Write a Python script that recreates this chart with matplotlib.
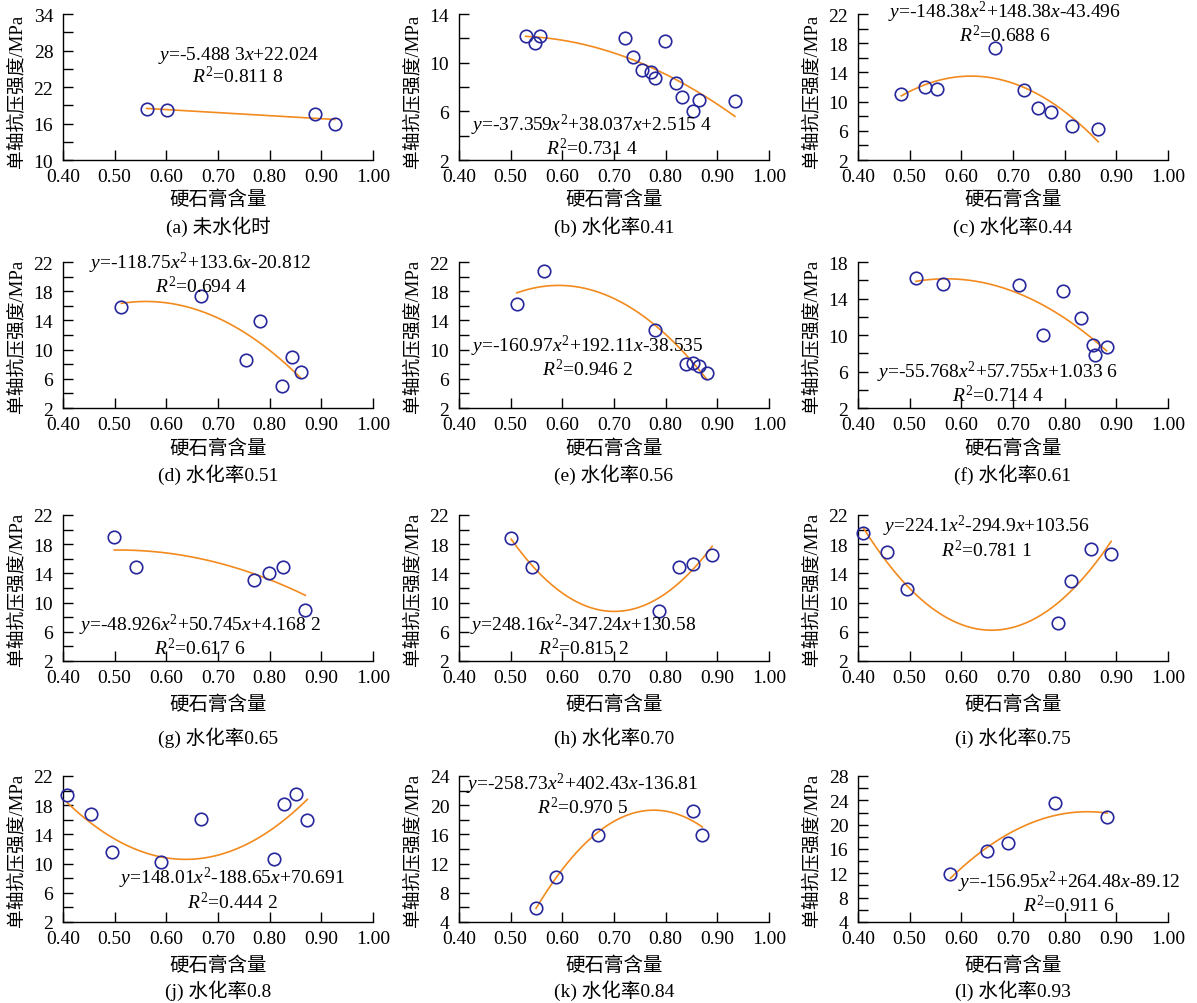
import numpy as np
import matplotlib
matplotlib.use('Agg')
import matplotlib.pyplot as plt

plt.rcParams['font.family'] = ['Liberation Serif', 'Noto Sans CJK SC']
plt.rcParams['mathtext.fontset'] = 'custom'
plt.rcParams['mathtext.rm'] = 'Liberation Serif'
plt.rcParams['mathtext.it'] = 'Liberation Serif:italic'

# ---------------- data ----------------
x_a = [0.562, 0.602, 0.887, 0.926]
y_a = [18.42, 18.25, 17.60, 16.00]

x_b = [0.529, 0.557, 0.548, 0.721, 0.799, 0.737, 0.754, 0.772, 0.780, 0.820, 0.831, 0.865, 0.852, 0.934]
y_b = [12.20, 12.20, 11.60, 12.00, 11.80, 10.45, 9.40, 9.25, 8.75, 8.35, 7.20, 6.95, 6.05, 6.85]

x_c = [0.484, 0.530, 0.553, 0.666, 0.721, 0.749, 0.774, 0.815, 0.865]
y_c = [11.00, 12.00, 11.67, 17.36, 11.57, 9.16, 8.64, 6.64, 6.22]

x_d = [0.513, 0.667, 0.781, 0.754, 0.844, 0.860, 0.823]
y_d = [15.90, 17.40, 13.85, 8.55, 9.00, 6.95, 4.97]

x_e = [0.512, 0.565, 0.779, 0.839, 0.853, 0.865, 0.880]
y_e = [16.30, 20.78, 12.62, 8.07, 8.10, 7.70, 6.85]

x_f = [0.512, 0.564, 0.712, 0.797, 0.832, 0.759, 0.855, 0.859, 0.881]
y_f = [16.25, 15.62, 15.52, 14.85, 11.85, 10.05, 8.85, 7.85, 8.65]

x_g = [0.499, 0.542, 0.770, 0.798, 0.825, 0.869]
y_g = [18.92, 14.94, 13.04, 14.09, 14.94, 8.97]

x_h = [0.501, 0.542, 0.787, 0.826, 0.853, 0.890]
y_h = [18.90, 14.85, 8.85, 14.94, 15.27, 16.55]

x_i = [0.410, 0.456, 0.495, 0.787, 0.813, 0.850, 0.890]
y_i = [19.50, 16.95, 11.85, 7.25, 13.00, 17.40, 16.70]

x_j = [0.408, 0.455, 0.495, 0.589, 0.668, 0.809, 0.827, 0.851, 0.873]
y_j = [19.34, 16.86, 11.58, 10.18, 16.16, 10.69, 18.12, 19.57, 16.02]

x_k = [0.549, 0.588, 0.669, 0.852, 0.871]
y_k = [5.90, 10.20, 15.92, 19.23, 15.85]

x_l = [0.579, 0.650, 0.690, 0.781, 0.882]
y_l = [11.91, 15.71, 16.94, 23.53, 21.24]

xs_all = [x_a, x_b, x_c, x_d, x_e, x_f, x_g, x_h, x_i, x_j, x_k, x_l]
ys_all = [y_a, y_b, y_c, y_d, y_e, y_f, y_g, y_h, y_i, y_j, y_k, y_l]
fit_degree = [1, 2, 2, 2, 2, 2, 2, 2, 2, 2, 2, 2]
# trend-line coefficients printed in the panel, used where the drawn curve follows them;
# None -> least-squares fit of the plotted points
coef_j = [148.01, -188.65, 70.691]
curve_coefs = [None, None, None, None, None, None, None, None, None, coef_j, None, None]

captions = ['(a) 未水化时', '(b) 水化率0.41', '(c) 水化率0.44', '(d) 水化率0.51',
            '(e) 水化率0.56', '(f) 水化率0.61', '(g) 水化率0.65', '(h) 水化率0.70',
            '(i) 水化率0.75', '(j) 水化率0.8', '(k) 水化率0.84', '(l) 水化率0.93']

Y = r'$\mathit{y}$'
X = r'$\mathit{x}$'
X2 = r'$\mathit{x}^{\mathrm{2}}$'
R2 = r'$\mathit{R}^{\mathrm{2}}$'
equations = [
    Y + '=-5.488 3' + X + '+22.024',
    Y + '=-37.359' + X2 + '+38.037' + X + '+2.515 4',
    Y + '=-148.38' + X2 + '+148.38' + X + '-43.496',
    Y + '=-118.75' + X2 + '+133.6' + X + '-20.812',
    Y + '=-160.97' + X2 + '+192.11' + X + '-38.535',
    Y + '=-55.768' + X2 + '+57.755' + X + '+1.033 6',
    Y + '=-48.926' + X2 + '+50.745' + X + '+4.168 2',
    Y + '=248.16' + X2 + '-347.24' + X + '+130.58',
    Y + '=224.1' + X2 + '-294.9' + X + '+103.56',
    Y + '=148.01' + X2 + '-188.65' + X + '+70.691',
    Y + '=-258.73' + X2 + '+402.43' + X + '-136.81',
    Y + '=-156.95' + X2 + '+264.48' + X + '-89.12',
]
r2_values = ['0.811 8', '0.731 4', '0.688 6', '0.694 4', '0.946 2', '0.714 4',
             '0.617 6', '0.815 2', '0.781 1', '0.444 2', '0.970 5', '0.911 6']

y_limits = [(10, 34), (2, 14), (2, 22), (2, 22), (2, 22), (2, 18),
            (2, 22), (2, 22), (2, 22), (2, 22), (4, 24), (4, 28)]
y_steps = [6, 4, 4, 4, 4, 4, 4, 4, 4, 4, 4, 4]

x_ticks = [0.40, 0.50, 0.60, 0.70, 0.80, 0.90, 1.00]

# text placement (axes fraction): centre x, equation-line y, R2-line y
eq_pos = [(0.565, 0.726, 0.575), (0.428, 0.226, 0.123), (0.474, 1.008, 0.882),
          (0.444, 0.991, 0.861), (0.415, 0.427, 0.283), (0.450, 0.244, 0.119),
          (0.442, 0.242, 0.112), (0.401, 0.249, 0.112), (0.415, 0.920, 0.786),
          (0.546, 0.295, 0.164), (0.398, 0.940, 0.813), (0.681, 0.265, 0.146)]

# ---------------- figure ----------------
W, H = 1197, 1004
fig = plt.figure(figsize=(W / 100, H / 100), dpi=100)

col_left = [63, 459, 858]
row_top = [15, 263, 516, 777]
ax_w, ax_h = 310, 146
cap_off = [66, 66, 76, 68]
xl_off = [39, 40, 43, 43]

line_color = '#f28a1e'
mark_color = '#26279b'

for k in range(12):
    r, c = divmod(k, 3)
    left = col_left[c] / W
    bottom = 1 - (row_top[r] + ax_h) / H
    ax = fig.add_axes([left, bottom, ax_w / W, ax_h / H])

    x = np.array(xs_all[k])
    y = np.array(ys_all[k])
    coef = curve_coefs[k] if curve_coefs[k] is not None else np.polyfit(x, y, fit_degree[k])
    xx = np.linspace(x.min(), x.max(), 200)
    ax.plot(xx, np.polyval(coef, xx), color=line_color, lw=1.2, zorder=2)
    ax.plot(x, y, 'o', ms=9, mfc='none', mec=mark_color, mew=1.2, zorder=3, clip_on=False)

    lo, hi = y_limits[k]
    st = y_steps[k]
    ax.set_xlim(0.4, 1.0)
    ax.set_ylim(lo, hi)
    ax.set_xticks(x_ticks)
    ax.set_xticklabels([f'{v:.2f}' for v in x_ticks])
    ax.set_yticks(np.arange(lo, hi + 1e-9, st))
    ax.set_yticks(np.arange(lo + st / 2, hi, st), minor=True)
    ax.spines['top'].set_visible(False)
    ax.spines['right'].set_visible(False)
    for s in ('left', 'bottom'):
        ax.spines[s].set_linewidth(1.0)
    ax.tick_params(axis='both', which='both', direction='in', width=1.0, labelsize=14)
    ax.tick_params(axis='y', which='both', length=7, pad=7)
    ax.tick_params(axis='x', which='major', length=7, pad=6)

    ax.text(-46 / ax_w, 0.48 if r == 0 else 0.5, '单轴抗压强度/MPa', rotation=90,
            ha='center', va='center', fontsize=13.5, transform=ax.transAxes)
    ax.text(0.5, -xl_off[r] / ax_h, '硬石膏含量', ha='center', va='center',
            fontsize=14, transform=ax.transAxes)
    ax.text(0.5, -cap_off[r] / ax_h, captions[k], ha='center', va='center',
            fontsize=14, transform=ax.transAxes)

    ex, ey, ry = eq_pos[k]
    ax.text(ex, (ey + ry) / 2, equations[k] + '\n' + R2 + '=' + r2_values[k],
            ha='center', va='center', multialignment='center', linespacing=1.0,
            fontsize=14, transform=ax.transAxes, zorder=4)

fig.savefig('out.png', dpi=100)
